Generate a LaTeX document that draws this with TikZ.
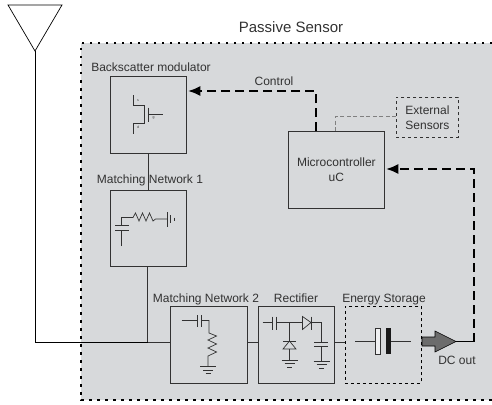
\documentclass[tikz,border=0pt]{standalone}
\usepackage{fontspec}
\setmainfont{Liberation Sans}
\usetikzlibrary{arrows.meta}
\definecolor{panel}{RGB}{215,217,219}
\definecolor{ink}{RGB}{50,50,50}

\begin{document}
\begin{tikzpicture}[
  x=1pt, y=-1pt,
  block/.style={draw=ink, line width=0.8pt, fill=panel, minimum size=76.5pt, inner sep=0pt, anchor=north west},
  title/.style={text=ink, font=\fontsize{12}{15}\selectfont, inner sep=0pt, anchor=base},
  wire/.style={draw=ink, line width=0.9pt},
  part/.style={draw=ink, line width=0.7pt},
  signal/.style={draw=black, line width=1.4pt, dash pattern=on 9pt off 5pt},
  tiplarge/.style={-{Latex[length=12pt,width=10pt]}, shorten >=1.5pt}
]
\useasboundingbox (0,0) rectangle (492,404);

% sensor outline
\fill [panel] (81,43) rectangle (492,400);
\draw [line width=1.8pt, dash pattern=on 2.5pt off 5.5pt] (492,43) -- (81,43) -- (81,400) -- (492,400);
\node [title, font=\fontsize{15}{18}\selectfont] (sensor) at (291,33) {Passive Sensor};

% blocks
\node [block] (modulator) at (109.5,76) {};
\node [block] (match1) at (109.5,189.5) {};
\node [block] (match2) at (170,306) {};
\node [block] (rectifier) at (257.5,306) {};
\node [block, draw=black, dashed, fill=none] (storage) at (344.5,306) {};
\node [block, minimum width=96pt] (micro) at (288,131) {};
\node [block, draw=ink, dashed, line width=0.9pt, minimum width=62pt, minimum height=40pt] (external) at (396,97) {};

\node [title] (modulatortext) at (151,71) {Backscatter modulator};
\node [title] (match1text) at (150,183) {Matching Network 1};
\node [title] (match2text) at (206,302) {Matching Network 2};
\node [title] (rectifiertext) at (296,302) {Rectifier};
\node [title] (storagetext) at (384,302) {Energy Storage};
\node [title, align=center, anchor=center] (microtext) at (micro.center) {Microcontroller\\uC};
\node [title, align=center, anchor=center] (externaltext) at (external.center) {External\\Sensors};
\node [title] (dctext) at (457,364) {DC out};
\node [title] (controltext) at (274,85) {Control};

% antenna and feed line
\coordinate (tipleft) at (8,5);
\coordinate (tipright) at (62,5);
\coordinate (feed) at (35,51);
\coordinate (corner) at (35,342);
\coordinate (junction) at (147.5,342);
\draw [line width=0.7pt] (tipleft) -- (tipright) -- (feed) -- cycle;
\draw [line width=0.7pt] (feed) -- (corner) -- (junction);
\draw [wire] (junction) -- (match2.west |- junction);
\draw [wire] (junction) -- (match1.south -| junction);
\draw [wire] (match1.north) -- (modulator.south);
\draw [wire] (match2.east |- junction) -- (rectifier.west |- junction);
\draw [wire] (rectifier.east |- junction) -- (storage.west |- junction);

% control and supply paths
\coordinate (controlbend) at (316,91);
\coordinate (supplybend) at (474,169);
\coordinate (supplyend) at (474,341.5);
\coordinate (outtip) at (456,341.5);
\coordinate (sensorbend) at (335.5,116);
\draw [signal, tiplarge] (micro.north -| controlbend) -- (controlbend) -- (modulator.east |- controlbend);
\draw [signal, tiplarge] (supplyend) -- (supplybend) -- (micro.east |- supplybend);
\draw [line width=1.2pt] (outtip) -- (supplyend);
\draw [draw=gray, line width=1pt, dash pattern=on 4pt off 2.5pt] (external.west |- sensorbend) -- (sensorbend) -- (micro.north -| sensorbend);
\fill [gray!85!black, draw=black, line width=0.6pt] (422,337) -- (435,337) -- (435,331) -- (outtip) -- (435,352) -- (435,346) -- (422,346) -- cycle;

% transistor
\draw [part, line width=0.9pt] (133.5,95) -- (133.5,105) -- (144,105) -- (144,123.5) -- (133.5,123.5) -- (133.5,134);
\draw [part, line width=0.9pt] (148.5,107.5) -- (148.5,121.5);
\draw [part] (148.5,114.5) -- (162.5,114.5);
\node [font=\fontsize{3.5}{4}\selectfont, inner sep=0pt, text=ink] (source) at (138,101) {s};
\node [font=\fontsize{3.5}{4}\selectfont, inner sep=0pt, text=ink] (gate) at (153.5,118) {g};
\node [font=\fontsize{3.5}{4}\selectfont, inner sep=0pt, text=ink] (drain) at (138,127) {d};

% network 1
\draw [part] (121.5,246) -- (121.5,230);
\draw [part] (115,230) -- (129,230);
\draw [part] (115,225.5) -- (129,225.5);
\draw [part] (121.5,225.5) -- (121.5,217.5) -- (133,217.5) -- (135.5,213) -- (139,221) -- (142.5,213) -- (146,221) -- (149.5,213) -- (153,221) -- (155.5,219) -- (167.5,219);
\draw [part] (167.5,212) -- (167.5,226.5);
\draw [part] (170.5,215) -- (170.5,223);
\draw [part] (174,217.5) -- (174,220.5);

% network 2
\draw [part] (181.5,320.5) -- (197.5,320.5);
\draw [part] (197.5,315) -- (197.5,327);
\draw [part] (201.5,315) -- (201.5,327);
\draw [part] (201.5,320.5) -- (209,320.5) -- (209,333) -- (216.5,336) -- (208,340) -- (216.5,344) -- (208,348) -- (216.5,352) -- (208,356) -- (208,366.5);

% rectifier
\draw [part] (262.5,322.5) -- (272.5,322.5);
\draw [part] (272.5,316.5) -- (272.5,329.5);
\draw [part] (276,316.5) -- (276,329.5);
\draw [part] (276,322.5) -- (302.5,322.5);
\draw [part] (302.5,316.5) -- (302.5,329.5) -- (311,322.5) -- cycle;
\draw [part] (311,316.5) -- (311,329.5);
\draw [part] (311,322.5) -- (321.5,322.5) -- (321.5,342);
\draw [part] (314,342) -- (327.5,342);
\draw [part] (314,346) -- (327.5,346);
\draw [part] (321.5,346) -- (321.5,361);
\draw [part] (289.5,322.5) -- (289.5,341);
\draw [part] (283,341) -- (296,341);
\draw [part] (289.5,341) -- (283,349) -- (296,349) -- cycle;
\draw [part] (289.5,349) -- (289.5,360);

% grounds
\foreach \gx/\gy in {208/366.5, 289.5/360, 321.5/361} {
  \draw [part] (\gx-8,\gy) -- (\gx+8,\gy);
  \draw [part] (\gx-5,\gy+3.5) -- (\gx+5,\gy+3.5);
  \draw [part] (\gx-2.5,\gy+7) -- (\gx+2.5,\gy+7);
}

% storage capacitor
\draw [part, line width=0.9pt] (355,341) -- (375.5,341);
\draw [part, fill=panel!40!white] (375.5,328) rectangle (380,354);
\fill [black!90] (385.5,328) rectangle (391,354);
\draw [part, line width=0.9pt] (391,341) -- (411,341);
\end{tikzpicture}
\end{document}
